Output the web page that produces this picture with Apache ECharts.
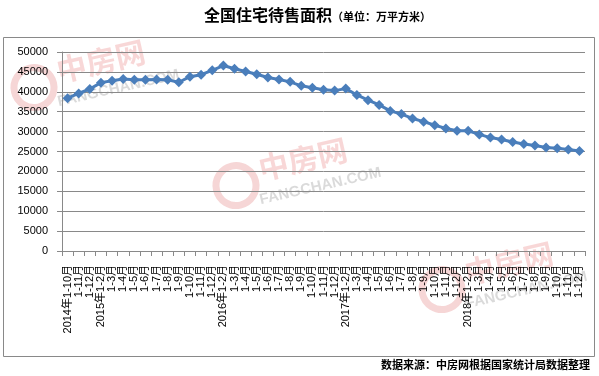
<!DOCTYPE html>
<html>
<head>
<meta charset="utf-8">
<script src="https://cdn.jsdelivr.net/npm/echarts@6/dist/echarts.min.js"></script>
<style>
  html, body { margin: 0; padding: 0; background: #fff; }
  #chart { width: 599px; height: 376px; }
</style>
</head>
<body>
<div id="chart"></div>
<script>
const categories = [
  '2014年1-10月', '1-11月', '1-12月',
  '2015年1-2月', '1-3月', '1-4月', '1-5月', '1-6月', '1-7月', '1-8月', '1-9月', '1-10月', '1-11月', '1-12月',
  '2016年1-2月', '1-3月', '1-4月', '1-5月', '1-6月', '1-7月', '1-8月', '1-9月', '1-10月', '1-11月', '1-12月',
  '2017年1-2月', '1-3月', '1-4月', '1-5月', '1-6月', '1-7月', '1-8月', '1-9月', '1-10月', '1-11月', '1-12月',
  '2018年1-2月', '1-3月', '1-4月', '1-5月', '1-6月', '1-7月', '1-8月', '1-9月', '1-10月', '1-11月', '1-12月'
]
const unsoldArea = [
  38400, 39600, 40700,
  42300, 42800, 43200, 43000, 43000, 43100, 43000, 42400, 43800, 44300, 45400,
  46600, 45800, 45100, 44400, 43600, 43100, 42500, 41500, 41000, 40500, 40300,
  40800, 39200, 37900, 36700, 35200, 34400, 33300, 32500, 31600, 30800, 30200,
  30200, 29300, 28500, 28000, 27400, 26900, 26500, 26000, 25800, 25500, 25100
]
const titleMain = '全国住宅待售面积'
const titleUnit = '（单位：万平方米）'
const sourceNote = '数据来源：中房网根据国家统计局数据整理'

const font = '"Liberation Sans", Arial, "Noto Sans CJK SC", sans-serif'
const cjk = '"Noto Sans CJK SC", sans-serif'
const gray = '#898989'

// faint site watermarks like the original picture
function watermark(x, y) {
  return {
    type: 'group', x: x, y: y, rotation: Math.PI / 14, silent: true, z: 0,
    children: [
      { type: 'circle', shape: { cx: 0, cy: 18, r: 20 }, style: { fill: 'none', stroke: 'rgba(220,90,90,0.25)', lineWidth: 7 } },
      { type: 'text', x: 26, y: -8, style: { text: '中房网', font: 'bold 30px ' + cjk, fill: 'rgba(230,110,110,0.28)' } },
      { type: 'text', x: 20, y: 30, style: { text: 'FANGCHAN.COM', font: 'bold 15px ' + font, fill: 'rgba(150,150,150,0.35)' } }
    ]
  }
}

const chart = echarts.init(document.getElementById('chart'))
chart.setOption({
  animation: false,
  backgroundColor: '#fff',
  textStyle: { fontFamily: font },
  title: {
    left: 199, top: 2,
    text: '{a|' + titleMain + '}{b|' + titleUnit + '}',
    textStyle: {
      rich: {
        a: { fontFamily: cjk, fontSize: 16, fontWeight: 'bold', color: '#000' },
        b: { fontFamily: cjk, fontSize: 11, fontWeight: 'bold', color: '#000', padding: [3, 0, 0, 0] }
      }
    }
  },
  grid: { left: 62, right: 14, top: 52, bottom: 125, containLabel: false },
  xAxis: {
    type: 'category', data: categories,
    axisLine: { lineStyle: { color: gray } },
    axisTick: { show: true, length: 5, lineStyle: { color: gray } },
    axisLabel: { interval: 0, rotate: 90, margin: 14, fontSize: 11, color: '#000', fontFamily: font },
    splitLine: { show: false }
  },
  yAxis: {
    type: 'value', min: 0, max: 50000, interval: 5000,
    axisLine: { show: true, lineStyle: { color: gray } },
    axisTick: { show: true, length: 5, lineStyle: { color: gray } },
    axisLabel: { margin: 14, fontSize: 11, color: '#000', fontFamily: font, formatter: v => String(v) },
    splitLine: { lineStyle: { color: gray, width: 1 } }
  },
  series: [{
    name: '住宅待售面积', type: 'line', data: unsoldArea,
    symbol: 'diamond', symbolSize: 10, z: 5,
    lineStyle: { color: '#4a7ebb', width: 3 },
    itemStyle: { color: '#4a7ebb' }
  }],
  graphic: [
    { type: 'rect', shape: { x: 3.5, y: 37.5, width: 591, height: 319 }, style: { fill: 'none', stroke: gray, lineWidth: 1 }, silent: true },
    watermark(30, 70),
    watermark(232, 168),
    watermark(438, 272),
    { type: 'text', right: 9, top: 359, style: { text: sourceNote, font: 'bold 11px ' + cjk, fill: '#000' } }
  ]
})
</script>
</body>
</html>
